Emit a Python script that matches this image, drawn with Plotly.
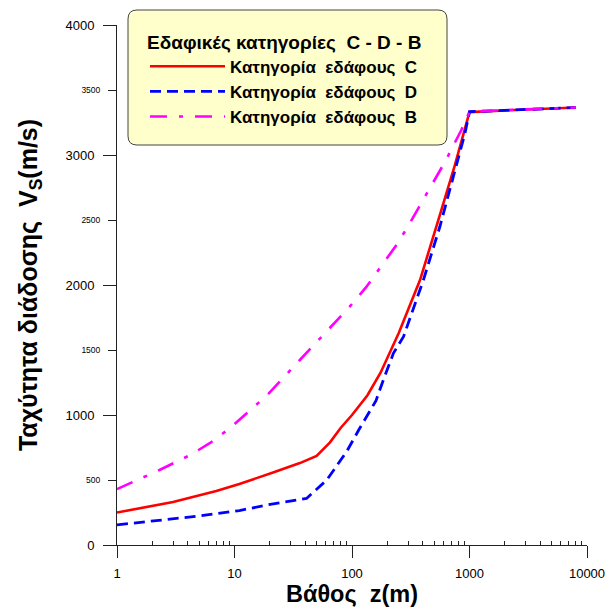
import plotly.graph_objects as go

# ---- data ----
depth_C = [1, 3, 7, 11, 21, 36, 50, 65, 80, 100, 135, 175, 250, 380, 560, 750, 1000, 2000, 3000, 5000, 8000]
vs_C = [250, 330, 415, 470, 555, 630, 685, 790, 900, 1000, 1150, 1325, 1630, 2040, 2540, 2920, 3330, 3345, 3350, 3358, 3365]

depth_D = [1, 2, 5, 11, 19, 41, 61, 70, 90, 115, 160, 185, 225, 275, 405, 560, 730, 915, 1000, 2000, 3000, 5000, 8000]
vs_D = [155, 185, 223, 265, 308, 358, 500, 577, 718, 890, 1110, 1270, 1474, 1605, 2038, 2450, 2833, 3167, 3333, 3345, 3350, 3358, 3365]

depth_B = [1, 2.3, 4.2, 6.2, 9.2, 19, 36, 70, 96, 133, 185, 240, 290, 390, 490, 630, 850, 1000, 2000, 3000, 5000, 8000]
vs_B = [430, 577, 692, 785, 900, 1154, 1423, 1700, 1835, 1987, 2170, 2310, 2430, 2630, 2780, 2960, 3190, 3333, 3345, 3350, 3358, 3365]

names = ["Κατηγορία\u00a0 εδάφους\u00a0 C", "Κατηγορία\u00a0 εδάφους\u00a0 D", "Κατηγορία\u00a0 εδάφους\u00a0 B"]
legend_title = "Εδαφικές κατηγορίες\u00a0 C - D - B"

x_major = [1, 10, 100, 1000, 10000]
x_minor = [m * 10 ** e for e in range(4) for m in range(2, 10)]
y_major = [0, 1000, 2000, 3000, 4000]
y_half = [500, 1500, 2500, 3500]

FONT = "Liberation Sans, Arial, sans-serif"
AX = "#222222"

fig = go.Figure()
fig.add_trace(go.Scatter(x=depth_C, y=vs_C, mode="lines", name="<b>" + names[0] + "</b>",
                         line=dict(color="#FF0000", width=2.6), legendgroup="c"))
fig.add_trace(go.Scatter(x=depth_D, y=vs_D, mode="lines", name="<b>" + names[1] + "</b>",
                         line=dict(color="#0000FF", width=2.8, dash="11px,6px"), legendgroup="d"))
fig.add_trace(go.Scatter(x=depth_B, y=vs_B, mode="lines", name="<b>" + names[2] + "</b>",
                         line=dict(color="#FF00FF", width=2.6, dash="17px,12px,4px,12px"),
                         legendgroup="b", yaxis="y2"))

# rounded legend box (paper coords)
x0, x1 = (128 - 117) / 470, (447 - 117) / 470
y0, y1 = (545 - 145) / 520, (545 - 10) / 520
rx, ry = 9 / 470, 9 / 520
path = (f"M {x0+rx},{y1} L {x1-rx},{y1} Q {x1},{y1} {x1},{y1-ry} "
        f"L {x1},{y0+ry} Q {x1},{y0} {x1-rx},{y0} L {x0+rx},{y0} "
        f"Q {x0},{y0} {x0},{y0+ry} L {x0},{y1-ry} Q {x0},{y1} {x0+rx},{y1} Z")
fig.add_shape(type="path", path=path, xref="paper", yref="paper",
              fillcolor="#FFFFCC", line=dict(color="#444444", width=1), layer="below")

fig.update_layout(
    width=612, height=610,
    margin=dict(l=117, r=25, t=25, b=65, autoexpand=False),
    paper_bgcolor="white", plot_bgcolor="white",
    font=dict(family=FONT, color="black"),
    showlegend=True,
    legend=dict(x=(145 - 117) / 470, y=(545 - 24) / 520, xanchor="left", yanchor="top",
                bgcolor="rgba(0,0,0,0)", borderwidth=0,
                font=dict(family=FONT, size=17, color="black"),
                title=dict(text="<b>" + legend_title + "</b>", font=dict(family=FONT, size=19, color="black")),
                itemwidth=75, tracegroupgap=2, traceorder="normal"),
    xaxis=dict(type="log", range=[0, 4], showline=True, linecolor=AX, linewidth=1,
               automargin=False,
               ticks="outside", ticklen=12, tickcolor=AX, tickwidth=1,
               tickmode="array", tickvals=x_major, ticktext=[str(v) for v in x_major],
               tickfont=dict(size=13, family=FONT, color="black"), ticklabelstandoff=4,
               showgrid=False, zeroline=False,
               minor=dict(tickmode="array", tickvals=x_minor, ticks="inside", ticklen=4,
                          tickcolor=AX, tickwidth=1, showgrid=False),
               title=dict(text="<b>Βάθος\u00a0 z(m)</b>", font=dict(size=23.5, family=FONT, color="black"),
                          standoff=5)),
    yaxis=dict(range=[0, 4000], showline=True, linecolor=AX, linewidth=1,
               automargin=False,
               ticks="outside", ticklen=13, tickcolor=AX, tickwidth=1,
               tickmode="array", tickvals=y_major, ticktext=[str(v) for v in y_major],
               tickfont=dict(size=13, family=FONT, color="black"), ticklabelstandoff=6,
               showgrid=False, zeroline=False,
               title=dict(text="<b>Ταχύτητα διάδοσης\u00a0 V<sub>S</sub>(m/s)</b>",
                          font=dict(size=25, family=FONT, color="black"), standoff=20)),
    yaxis2=dict(range=[0, 4000], overlaying="y", side="left", showline=False,
                automargin=False,
                ticks="outside", ticklen=8, tickcolor=AX, tickwidth=1,
                tickmode="array", tickvals=y_half, ticktext=[str(v) for v in y_half],
                tickfont=dict(size=8.5, family=FONT, color="black"), ticklabelstandoff=6,
                showgrid=False, zeroline=False),
)

fig.write_html("out.html")
